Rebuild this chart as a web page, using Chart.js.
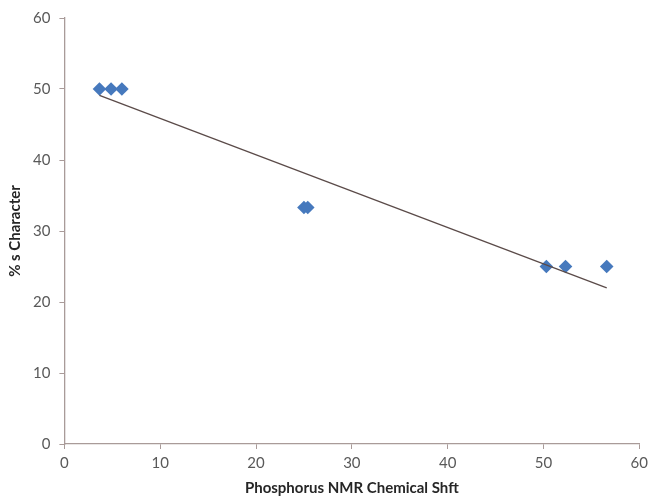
<!DOCTYPE html>
<html lang="en">
<head>
    <meta charset="UTF-8">
    <title>% s Character vs P NMR shift</title>
    <style>
        html, body { margin: 0; padding: 0; background: #fff; }
        #wrap { width: 653px; height: 497px; }
    </style>
</head>
<body>
    <div id="wrap"><canvas id="Chart" width="653" height="497"></canvas></div>

    <script src="https://cdn.jsdelivr.net/npm/chart.js"></script>
    <script>
        // measured points
        const shiftX = [3.66, 4.87, 6.0, 25.0, 25.4, 50.3, 52.3, 56.6];
        const sChar = [50, 50, 50, 33.3, 33.3, 25, 25, 25];

        // trend line ends
        const trendX = [3.66, 56.6];
        const trendY = [49.1, 22.0];

        const xTitle = 'Phosphorus NMR Chemical Shft';
        const yTitle = '% s Character';

        const axisColor = '#a99b99';
        const labelColor = '#595959';
        const font = { family: 'Lato, "Open Sans", sans-serif', size: 15 };
        const titleFont = { family: font.family, size: 15, weight: 'bold' };

        const pts = shiftX.map((x, i) => ({ x: x, y: sChar[i] }));
        const trend = trendX.map((x, i) => ({ x: x, y: trendY[i] }));

        var ctx = document.getElementById('Chart').getContext('2d');
        var chart = new Chart(ctx, {
            type: 'scatter',
            data: {
                datasets: [
                    {
                        label: 'trend',
                        data: trend,
                        showLine: true,
                        borderColor: '#5b4b49',
                        borderWidth: 1.3,
                        pointRadius: 0,
                        fill: false
                    },
                    {
                        label: '% s',
                        data: pts,
                        pointStyle: 'rectRot',
                        pointRadius: 6.8,
                        backgroundColor: '#4679bd',
                        borderColor: '#4679bd',
                        borderWidth: 0
                    }
                ]
            },
            options: {
                responsive: false,
                animation: false,
                layout: { padding: { left: 6, right: 6, top: 12, bottom: 0 } },
                plugins: {
                    legend: { display: false },
                    tooltip: { enabled: false }
                },
                scales: {
                    x: {
                        type: 'linear',
                        min: 0,
                        max: 60,
                        ticks: { stepSize: 10, color: labelColor, font: font, padding: 5 },
                        grid: { drawOnChartArea: false, color: axisColor, tickLength: 5 },
                        border: { color: axisColor, width: 1.3 },
                        title: {
                            display: true,
                            text: xTitle,
                            color: '#262626',
                            font: titleFont,
                            padding: { top: 2, bottom: 0 }
                        }
                    },
                    y: {
                        min: 0,
                        max: 60,
                        ticks: { stepSize: 10, color: labelColor, font: font, padding: 9 },
                        grid: { drawOnChartArea: false, color: axisColor, tickLength: 5 },
                        border: { color: axisColor, width: 1.3 },
                        title: {
                            display: true,
                            text: yTitle,
                            color: '#262626',
                            font: titleFont,
                            padding: { top: 0, bottom: 0 }
                        }
                    }
                }
            }
        });
    </script>
</body>
</html>
